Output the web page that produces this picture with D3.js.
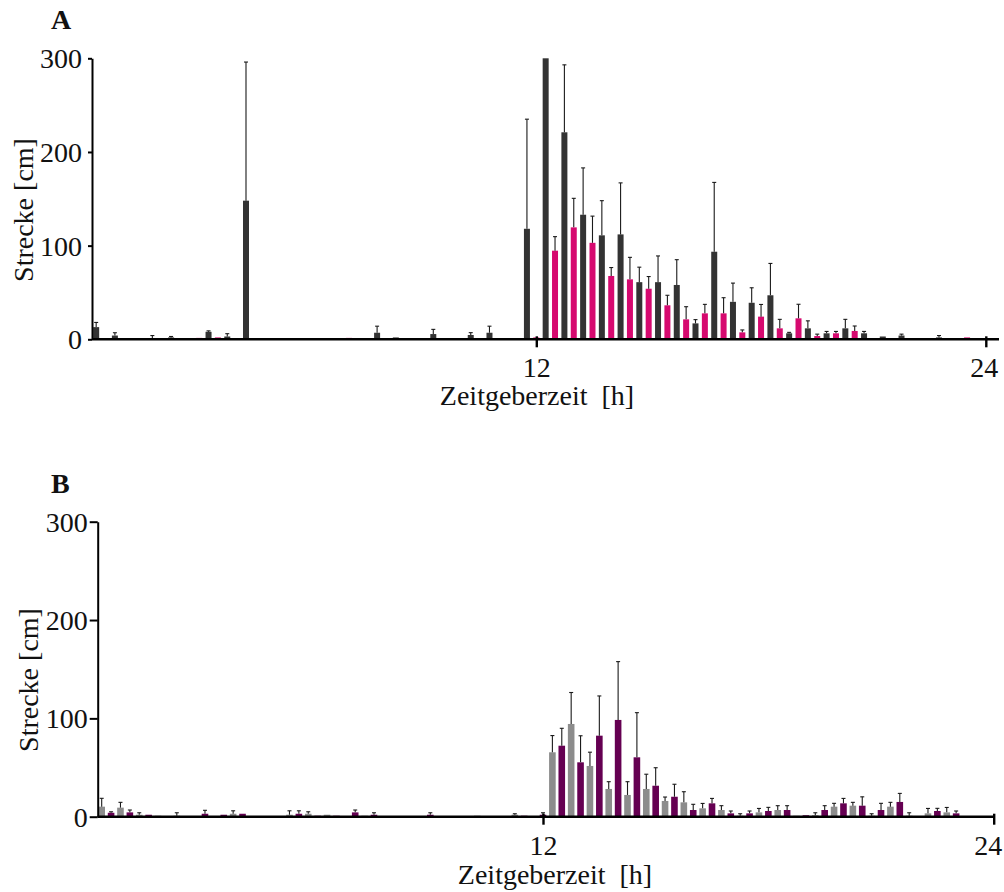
<!DOCTYPE html>
<html>
<head>
<meta charset="utf-8">
<script src="https://cdn.jsdelivr.net/npm/d3@7"></script>
<style>
  html, body { margin: 0; padding: 0; background: #fff; }
  svg text { font-family: "Liberation Serif", "Times New Roman", serif; fill: #111; white-space: pre; }
</style>
</head>
<body>
<svg id="chart" width="1004" height="892"></svg>
<script>
// Half-hour bins, labelled by their end time (0.5 ... 24 h)
const binEnds = d3.range(48).map(k => (k + 1) * 0.5);
const yTicks = [0, 100, 200, 300];
const xTicks = [12, 24];

// Panel A: walking distance per half hour (mean and upper error)
const aDark = [13, 4, 0, 1, 2, 0, 8, 3, 148, 0, 0, 0, 1, 0, 0, 7, 2, 1, 5.6, 0, 4.6, 7, 0, 118,
  300, 221, 133, 111, 112, 61, 61, 58, 17, 93.5, 40, 39, 47, 6.4, 11.7, 6.4, 11.7, 6.4, 3, 4, 1, 2, 1, 0];
const aDarkErr = [5, 3, 0, 3, 1, 0, 1, 3, 148, 0, 0, 0, 0, 0, 0, 7, 0, 0, 5, 0, 2.5, 7, 0, 117,
  0, 72, 50, 37, 55, 16, 28, 27, 4, 74, 20, 16, 34, 1, 8, 2, 9.6, 2, 0, 1.5, 0, 2, 0, 0];
const aMag = [1, 1, 0, 1, 0, 1.5, 2, 0, 1, 0, 0, 0, 0, 1.5, 1, 0, 0, 0, 0, 0, 0, 0, 0, 2,
  94.6, 119.5, 103, 67.6, 64, 54, 36.3, 21.3, 27.7, 27.7, 7.4, 24.2, 11.7, 22.4, 3.5, 6.4, 8.9, 1, 0, 1, 1, 1, 2, 0];
const aMagErr = [0, 0, 0, 0, 0, 0, 0, 0, 0, 0, 0, 0, 0, 0, 0, 0, 0, 0, 0, 0, 0, 0, 0, 0,
  15, 31, 28.5, 9, 23.5, 13, 10.7, 13.5, 9.6, 16.7, 2.6, 13, 9.6, 15, 2, 2, 5.3, 0, 0, 0, 0, 0, 0, 0];

// Panel B
const bGray = [10.2, 9.2, 2, 1, 1, 0, 0, 3, 0, 0, 2, 3, 2, 0, 1, 0, 0, 0, 0, 0, 1, 0, 2, 0,
  65.5, 94.3, 51.6, 28.2, 22.1, 28.2, 16, 14.6, 8.5, 6.8, 1, 4.4, 6.8, 1, 1.5, 10.2, 11.2, 1, 10.2, 1, 3.4, 4.4, 0, 0];
const bGrayErr = [8.5, 5.4, 2, 0, 3, 0, 0, 3, 0, 0, 4, 2, 0, 0, 0, 0, 0, 0, 0, 0, 0, 0, 1, 0,
  17, 32, 14, 7.4, 13.5, 15, 4, 10.8, 5, 4.4, 2, 4, 4.4, 0, 2.5, 3.4, 3.4, 2, 4.4, 3, 5, 5, 0, 0];
const bPurple = [4, 4.4, 2, 0, 0, 3, 2, 3, 0, 0, 3, 1, 1, 4.4, 2, 0, 0, 2, 0, 0, 0, 0, 1, 2,
  72.2, 55.3, 82.4, 98.4, 60.4, 31.5, 20.3, 6.8, 13.6, 3.4, 3.4, 5.8, 6.8, 1.5, 6.8, 13.6, 11.2, 6.8, 15, 0, 5.8, 3.4, 0, 0];
const bPurpleErr = [1, 2.4, 0, 0, 0, 3.5, 0, 0, 0, 0, 3, 0, 0, 2.4, 2, 0, 0, 2, 0, 0, 0, 0, 0, 2,
  17.7, 27, 40.4, 59.3, 45.4, 18.3, 12.7, 5.8, 5, 2.4, 2.4, 3.7, 4.4, 0, 4.4, 5, 9, 6.8, 8.7, 0, 2.7, 2.4, 0, 0];

const svg = d3.select("#chart");
const FS = 28;

function panel(cfg) {
  const g = svg.append("g");
  const x = d3.scaleLinear().domain([0, 24]).range(cfg.xRange);
  const y = d3.scaleLinear().domain([0, 300]).range(cfg.yRange);

  // bars: first series sits a quarter hour before the bin end, second at the bin end
  cfg.series.forEach(s => {
    const rows = binEnds.map((t, i) => ({ t: t + s.shift, v: s.values[i], e: s.errs[i] }));
    g.append("g").selectAll("rect").data(rows.filter(d => d.v > 0)).join("rect")
      .attr("x", d => x(d.t) - cfg.barW / 2)
      .attr("width", cfg.barW)
      .attr("y", d => y(d.v))
      .attr("height", d => y(0) - y(d.v))
      .attr("fill", s.color);
    const eb = g.append("g").attr("stroke", "#1a1a1a").attr("stroke-width", 1.1);
    const withErr = rows.filter(d => d.e > 0);
    eb.selectAll("line.stem").data(withErr).join("line").attr("class", "stem")
      .attr("x1", d => x(d.t)).attr("x2", d => x(d.t))
      .attr("y1", d => y(d.v)).attr("y2", d => y(d.v + d.e));
    eb.selectAll("line.cap").data(withErr).join("line").attr("class", "cap")
      .attr("x1", d => x(d.t) - 2).attr("x2", d => x(d.t) + 2)
      .attr("y1", d => y(d.v + d.e)).attr("y2", d => y(d.v + d.e));
  });

  // y axis
  const ya = g.append("g").attr("transform", `translate(${cfg.axisX},0)`)
    .call(d3.axisLeft(y).tickValues(yTicks).tickSize(cfg.yTick).tickSizeOuter(0).tickPadding(cfg.yPad));
  ya.select(".domain").attr("stroke", "#000").attr("stroke-width", 2);
  ya.selectAll(".tick line").attr("stroke", "#000").attr("stroke-width", 2);
  ya.selectAll(".tick text").attr("font-size", FS).attr("fill", "#111").attr("dy", "0.34em");

  // x axis: baseline from the y axis to its end, ticks at 12 and 24 h
  g.append("line")
    .attr("x1", cfg.axisX).attr("x2", cfg.xEnd)
    .attr("y1", y(0)).attr("y2", y(0))
    .attr("stroke", "#000").attr("stroke-width", 2.4);
  const xa = g.append("g").attr("transform", `translate(0,${y(0)})`)
    .call(d3.axisBottom(x).tickValues(xTicks).tickSize(8).tickPadding(10));
  xa.select(".domain").remove();
  xa.selectAll(".tick line").attr("stroke", "#000").attr("stroke-width", 2.4).attr("y1", -3);
  xa.selectAll(".tick text").attr("font-size", FS).attr("fill", "#111")
    .attr("dx", d => d === 24 ? cfg.lastDx : 0);

  g.append("text")
    .attr("x", cfg.titleX).attr("y", y(0) + cfg.titleDy)
    .attr("text-anchor", "middle").attr("font-size", FS)
    .text("Zeitgeberzeit  [h]");

  g.append("text")
    .attr("transform", `translate(${cfg.yTitleX},${cfg.yTitleY}) rotate(-90)`)
    .attr("text-anchor", "middle").attr("font-size", FS)
    .text("Strecke [cm]");

  g.append("text")
    .attr("x", cfg.letterX).attr("y", cfg.letterY)
    .attr("font-size", 28).attr("font-weight", "bold")
    .text(cfg.letter);
}

panel({
  letter: "A", letterX: 51, letterY: 29,
  xRange: [86.8, 985.8], yRange: [339.3, 58.3],
  axisX: 92, xEnd: 999, barW: 6, yTick: 4, yPad: 6, lastDx: -2,
  titleX: 537, titleDy: 66, yTitleX: 33, yTitleY: 210,
  series: [
    { values: aDark, errs: aDarkErr, color: "#333333", shift: -0.25 },
    { values: aMag, errs: aMagErr, color: "#d6096f", shift: 0 }
  ]
});

panel({
  letter: "B", letterX: 51, letterY: 493,
  xRange: [92.3, 993.7], yRange: [816.7, 521.7],
  axisX: 97.7, xEnd: 995, barW: 6.6, yTick: 8, yPad: 2, lastDx: -6,
  titleX: 555, titleDy: 67, yTitleX: 38, yTitleY: 680,
  series: [
    { values: bGray, errs: bGrayErr, color: "#8c8c8c", shift: -0.25 },
    { values: bPurple, errs: bPurpleErr, color: "#650052", shift: 0 }
  ]
});
</script>
</body>
</html>
